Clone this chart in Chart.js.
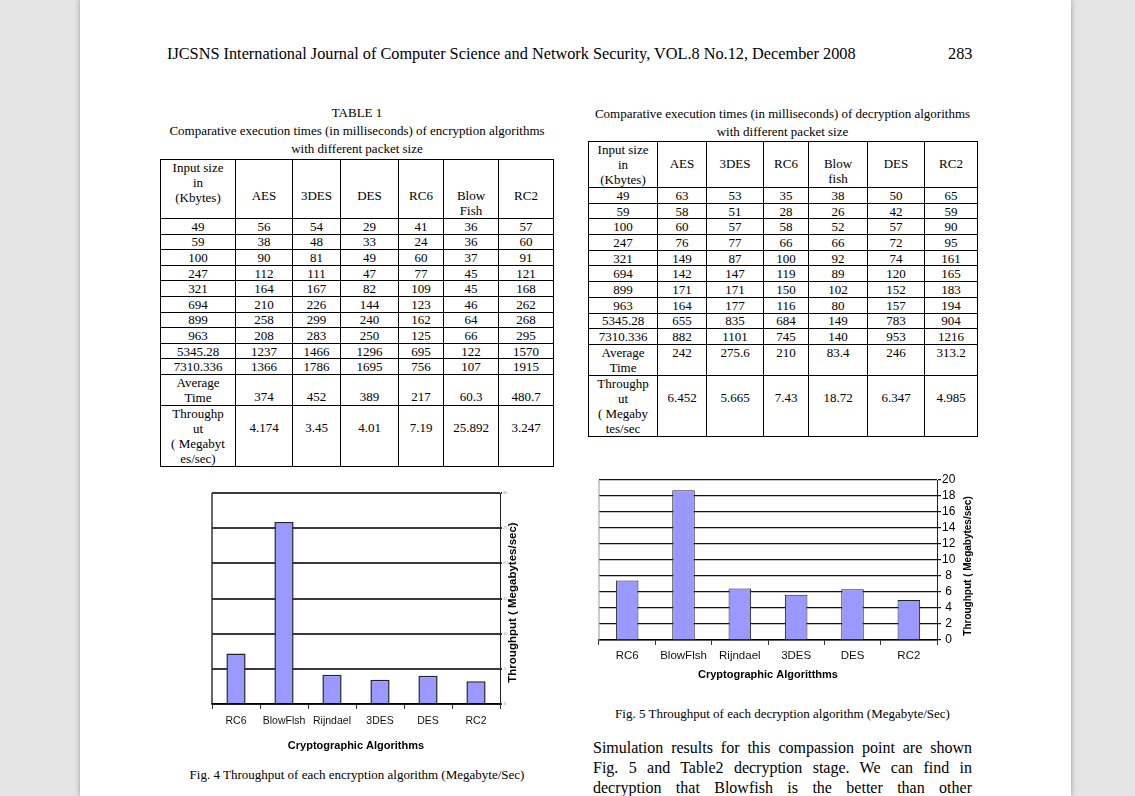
<!DOCTYPE html>
<html>
<head>
<meta charset="utf-8">
<script src="https://cdn.jsdelivr.net/npm/chart.js@4.4.1/dist/chart.umd.min.js"></script>
<style>
  html, body { margin: 0; padding: 0; overflow: hidden; }
  body { width: 1135px; height: 796px; background: #e4e4e4; position: relative; font-family: "Liberation Serif", "Times New Roman", serif; color: #000; }
  .page { position: absolute; left: 80px; top: 0; width: 991px; height: 796px; background: #fff; box-shadow: 0 0 5px rgba(0,0,0,0.35); }
  .abs { position: absolute; }
  .head { top: 44px; font-size: 16.3px; white-space: nowrap; }
  .cap { font-size: 13px; line-height: 18px; text-align: center; white-space: nowrap; }
  table { position: absolute; border-collapse: collapse; table-layout: fixed; font-size: 13px; line-height: 13px; }
  td { border: 1px solid #000; padding: 0; text-align: center; vertical-align: middle; white-space: nowrap; overflow: hidden; }
  td.top { vertical-align: top; line-height: 15px; }
  td.pad1 { vertical-align: top; line-height: 15px; padding-top: 14px; }
  td.pad2 { vertical-align: top; line-height: 15px; padding-top: 28px; }
  .fig { position: absolute; }
  .para { left: 593px; width: 379px; font-size: 16px; line-height: 20px; text-align: justify; text-align-last: justify; white-space: nowrap; }
</style>
</head>
<body>
<div class="page"></div>

<div class="abs head" style="left:167px">IJCSNS International Journal of Computer Science and Network Security, VOL.8 No.12, December 2008</div>
<div class="abs head" style="left:948px">283</div>

<div class="abs cap" style="left:160px;width:394px;top:104px">TABLE 1<br>Comparative execution times (in milliseconds) of encryption algorithms<br>with different packet size</div>
<table id="tbl1" style="left:160px;top:159px;width:393px"></table>

<div class="abs cap" style="left:588px;width:389px;top:105px">Comparative execution times (in milliseconds) of decryption algorithms<br>with different packet size</div>
<table id="tbl2" style="left:588px;top:141px;width:389px"></table>

<div class="fig" style="left:200px;top:485px;width:335px;height:275px"><canvas id="fig4"></canvas></div>
<div class="abs cap" style="left:160px;width:394px;top:766px">Fig. 4 Throughput of each encryption algorithm (Megabyte/Sec)</div>

<div class="fig" style="left:590px;top:470px;width:400px;height:214px"><canvas id="fig5"></canvas></div>
<div class="abs cap" style="left:588px;width:389px;top:705px">Fig. 5 Throughput of each decryption algorithm (Megabyte/Sec)</div>

<div class="abs para" style="top:738px">Simulation results for this compassion point are shown</div>
<div class="abs para" style="top:758px">Fig. 5 and Table2 decryption stage. We can find in</div>
<div class="abs para" style="top:778px">decryption that Blowfish is the better than other</div>

<script>
// table 1 - encryption times (ms)
const sizes = ['49', '59', '100', '247', '321', '694', '899', '963', '5345.28', '7310.336'];
const encCols = ['AES', '3DES', 'DES', 'RC6', 'Blow<br>Fish', 'RC2'];
const encTimes = [
  [56, 54, 29, 41, 36, 57],
  [38, 48, 33, 24, 36, 60],
  [90, 81, 49, 60, 37, 91],
  [112, 111, 47, 77, 45, 121],
  [164, 167, 82, 109, 45, 168],
  [210, 226, 144, 123, 46, 262],
  [258, 299, 240, 162, 64, 268],
  [208, 283, 250, 125, 66, 295],
  [1237, 1466, 1296, 695, 122, 1570],
  [1366, 1786, 1695, 756, 107, 1915]
];
const encAvg = ['374', '452', '389', '217', '60.3', '480.7'];
const encTput = ['4.174', '3.45', '4.01', '7.19', '25.892', '3.247'];

// table 2 - decryption times (ms)
const decCols = ['AES', '3DES', 'RC6', 'Blow<br>fish', 'DES', 'RC2'];
const decTimes = [
  [63, 53, 35, 38, 50, 65],
  [58, 51, 28, 26, 42, 59],
  [60, 57, 58, 52, 57, 90],
  [76, 77, 66, 66, 72, 95],
  [149, 87, 100, 92, 74, 161],
  [142, 147, 119, 89, 120, 165],
  [171, 171, 150, 102, 152, 183],
  [164, 177, 116, 80, 157, 194],
  [655, 835, 684, 149, 783, 904],
  [882, 1101, 745, 140, 953, 1216]
];
const decAvg = ['242', '275.6', '210', '83.4', '246', '313.2'];
const decTput = ['6.452', '5.665', '7.43', '18.72', '6.347', '4.985'];

// charts
const algos = ['RC6', 'BlowFlsh', 'Rijndael', '3DES', 'DES', 'RC2'];
const encThroughput = [7.19, 25.892, 4.174, 3.45, 4.01, 3.247];
const decThroughput = [7.43, 18.72, 6.452, 5.665, 6.347, 4.985];

function buildTable(id, widths, cols, times, avg, tput, opt) {
  const t = document.getElementById(id);
  let html = '<colgroup>' + widths.map(w => '<col style="width:' + w + 'px">').join('') + '</colgroup>';
  html += '<tr style="height:' + opt.headH + 'px"><td class="top">Input size<br>in<br>(Kbytes)</td>' +
    cols.map(c => '<td class="' + opt.headCls + '">' + c + '</td>').join('') + '</tr>';
  times.forEach((r, i) => {
    html += '<tr style="height:' + opt.rowH + 'px"><td>' + sizes[i] + '</td>' + r.map(v => '<td>' + v + '</td>').join('') + '</tr>';
  });
  html += '<tr style="height:' + opt.avgH + 'px"><td class="top">Average<br>Time</td>' +
    avg.map(v => '<td class="' + opt.avgCls + '">' + v + '</td>').join('') + '</tr>';
  html += '<tr style="height:' + opt.tpH + 'px"><td class="top">' + opt.tpLabel + '</td>' +
    tput.map(v => '<td class="pad1">' + v + '</td>').join('') + '</tr>';
  t.innerHTML = html;
}

buildTable('tbl1', [75, 57, 48, 58, 45, 55, 55], encCols, encTimes, encAvg, encTput,
  { headH: 59, headCls: 'pad2', rowH: 15.6, avgH: 31, avgCls: 'pad1', tpH: 61, tpLabel: 'Throughp<br>ut<br>( Megabyt<br>es/sec)' });
buildTable('tbl2', [69, 49, 57, 45, 59, 57, 53], decCols, decTimes, decAvg, decTput,
  { headH: 45, headCls: 'pad1', rowH: 15.7, avgH: 30, avgCls: 'top', tpH: 61, tpLabel: 'Throughp<br>ut<br>( Megaby<br>tes/sec' });

// vertical title on the right side, reading bottom to top, plus the left frame line
const sideTitle = {
  id: 'sideTitle',
  afterDraw(chart, args, o) {
    const ctx = chart.ctx, a = chart.chartArea;
    ctx.save();
    ctx.strokeStyle = o.frameColor;
    ctx.lineWidth = o.frameWidth;
    ctx.beginPath();
    ctx.moveTo(a.left, a.top);
    ctx.lineTo(a.left, a.bottom);
    ctx.stroke();
    ctx.font = o.font;
    ctx.fillStyle = '#000';
    ctx.textAlign = 'center';
    ctx.textBaseline = 'middle';
    ctx.translate(a.right + o.offset, (a.top + a.bottom) / 2 + o.dy);
    ctx.rotate(-Math.PI / 2);
    ctx.fillText(o.text, 0, 0);
    ctx.restore();
  }
};

Chart.defaults.font.family = '"Liberation Sans", Arial, sans-serif';
Chart.defaults.color = '#000';

function barChart(id, values, s) {
  new Chart(document.getElementById(id), {
    type: 'bar',
    data: {
      labels: algos,
      datasets: [{
        data: values,
        backgroundColor: '#9999ff',
        borderColor: '#222',
        borderWidth: s.barBorder,
        categoryPercentage: 1,
        barPercentage: 0.4
      }]
    },
    plugins: [sideTitle],
    options: {
      responsive: true,
      maintainAspectRatio: false,
      animation: false,
      layout: { padding: { left: s.padLeft, top: s.padTop, right: 0, bottom: 0 } },
      plugins: {
        legend: { display: false },
        tooltip: { enabled: false },
        sideTitle: s.title
      },
      scales: {
        x: {
          afterFit: ax => { ax.height = s.xHeight; },
          grid: { offset: true, drawOnChartArea: false, drawTicks: true, tickLength: 5, color: '#333', lineWidth: 1 },
          border: { display: true, color: '#000', width: 1.5 },
          ticks: { font: { size: s.xFont }, padding: s.xPad, color: '#111', maxRotation: 0, minRotation: 0, autoSkip: false },
          title: { display: true, text: s.xTitle, font: { size: 11, weight: 'bold' }, padding: { top: 0, bottom: s.xTitlePad } }
        },
        y: {
          position: 'right',
          min: 0,
          max: s.yMax,
          afterFit: ax => { ax.width = s.yWidth; },
          grid: { color: s.gridColor, lineWidth: s.gridWidth, drawTicks: true, tickLength: s.yTick },
          border: { display: true, color: '#222', width: 1 },
          ticks: { stepSize: s.yStep, autoSkip: false, font: { size: s.yFont }, color: s.yColor, padding: s.yPad, crossAlign: 'center' }
        }
      }
    }
  });
}

barChart('fig4', encThroughput, {
  barBorder: 1.5, padLeft: 12, padTop: 8, xHeight: 56, yWidth: 35,
  xFont: 10.5, xPad: 6, xTitle: 'Cryptographic Algorithms', xTitlePad: 7,
  yMax: 30, yStep: 5, yFont: 4, yColor: '#999', yPad: 1, yTick: 2,
  gridColor: '#3a3a3a', gridWidth: 2,
  title: { text: 'Throughput ( Megabytes/sec)', font: 'bold 11.5px "Liberation Sans", Arial, sans-serif', offset: 13, dy: 4, frameColor: '#333', frameWidth: 1.5 }
});

barChart('fig5', decThroughput, {
  barBorder: 1, padLeft: 9, padTop: 10, xHeight: 44, yWidth: 53,
  xFont: 11.5, xPad: 4, xTitle: 'Cryptographic Algoritthms', xTitlePad: 2,
  yMax: 20, yStep: 2, yFont: 12, yColor: '#000', yPad: 1, yTick: 4,
  gridColor: '#111', gridWidth: 1.2,
  title: { text: 'Throughput ( Megabytes/sec)', font: 'bold 10px "Liberation Sans", Arial, sans-serif', offset: 31, dy: 6, frameColor: '#999', frameWidth: 1 }
});
</script>
</body>
</html>
